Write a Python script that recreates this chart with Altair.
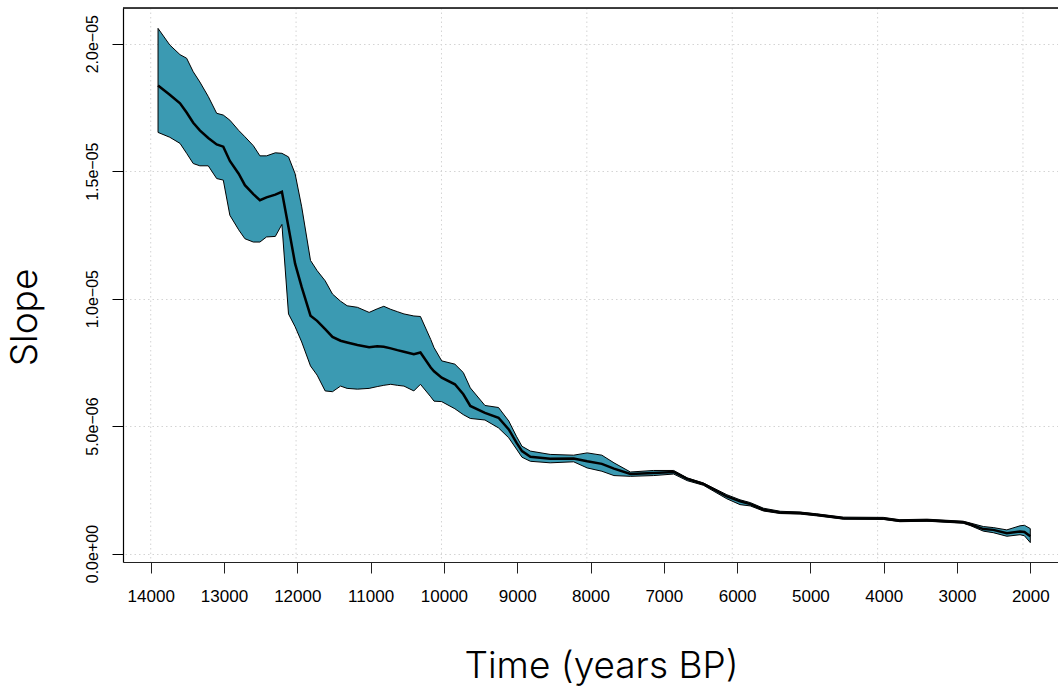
import altair as alt
import pandas as pd

# Time (years BP) and slope values (in units of 1e-6)
years = [13900, 13740, 13600, 13510, 13420, 13330, 13215, 13100, 13010, 12920,
         12800, 12715, 12600, 12510, 12420, 12300, 12210, 12120, 12030, 11940,
         11820, 11730, 11620, 11520, 11410, 11320, 11180, 11020, 10910, 10820,
         10725, 10635, 10545, 10410, 10320, 10180, 10135, 10030, 9850, 9735,
         9640, 9440, 9255, 9115, 9010, 8935, 8820, 8550, 8230, 8045,
         7845, 7680, 7455, 7140, 6865, 6680, 6460, 6140, 5960, 5820,
         5640, 5410, 5140, 4915, 4550, 4005, 3780, 3410, 2915, 2820,
         2640, 2505, 2320, 2140, 2080, 2000]
upper_e6 = [20.6, 19.95, 19.57, 19.43, 18.9, 18.5, 17.93, 17.27, 17.2, 17.0,
            16.6, 16.35, 16.0, 15.6, 15.6, 15.72, 15.7, 15.56, 14.9, 13.6,
            11.5, 11.1, 10.7, 10.18, 9.9, 9.72, 9.66, 9.46, 9.6, 9.7,
            9.58, 9.49, 9.4, 9.32, 9.3, 8.4, 8.08, 7.56, 7.43, 7.1,
            6.5, 5.81, 5.73, 5.2, 4.6, 4.21, 4.02, 3.89, 3.86, 3.95,
            3.86, 3.56, 3.2, 3.26, 3.26, 2.97, 2.77, 2.31, 2.11, 2.0,
            1.78, 1.66, 1.63, 1.56, 1.43, 1.42, 1.33, 1.35, 1.27, 1.2,
            1.06, 1.02, 0.93, 1.09, 1.11, 0.98]
mean_e6 = [18.36, 18.0, 17.66, 17.3, 16.9, 16.6, 16.3, 16.05, 15.96, 15.4,
           14.9, 14.45, 14.1, 13.86, 13.97, 14.08, 14.19, 12.8, 11.37, 10.45,
           9.33, 9.13, 8.8, 8.5, 8.35, 8.28, 8.18, 8.09, 8.13, 8.11,
           8.05, 7.98, 7.92, 7.82, 7.89, 7.3, 7.15, 6.9, 6.64, 6.25,
           5.79, 5.52, 5.33, 4.87, 4.35, 4.02, 3.8, 3.72, 3.73, 3.62,
           3.52, 3.33, 3.12, 3.16, 3.2, 2.93, 2.73, 2.24, 2.05, 1.94,
           1.72, 1.61, 1.59, 1.52, 1.39, 1.38, 1.29, 1.31, 1.23, 1.15,
           0.96, 0.93, 0.8, 0.87, 0.85, 0.68]
lower_e6 = [16.52, 16.33, 16.09, 15.7, 15.3, 15.21, 15.21, 14.71, 14.65, 13.27,
            12.7, 12.35, 12.22, 12.22, 12.42, 12.44, 12.91, 9.4, 8.9, 8.3,
            7.36, 7.0, 6.38, 6.35, 6.57, 6.48, 6.45, 6.48, 6.55, 6.6,
            6.64, 6.6, 6.57, 6.38, 6.64, 6.15, 5.98, 5.96, 5.68, 5.45,
            5.3, 5.24, 4.93, 4.54, 4.1, 3.78, 3.62, 3.56, 3.6, 3.36,
            3.23, 3.06, 3.03, 3.06, 3.12, 2.86, 2.68, 2.15, 1.92, 1.87,
            1.67, 1.57, 1.55, 1.48, 1.35, 1.34, 1.25, 1.27, 1.19, 1.1,
            0.88, 0.82, 0.68, 0.74, 0.7, 0.43]

x_ticks = [14000, 13000, 12000, 11000, 10000, 9000, 8000, 7000, 6000, 5000, 4000, 3000, 2000]
grid_years = [14000, 12017, 10033, 8050, 6066, 4083, 2100]
y_ticks = [0.0, 5e-6, 1e-5, 1.5e-5, 2e-5]
y_tick_labels = ["0.0e+00", "5.0e\u221206", "1.0e\u221205", "1.5e\u221205", "2.0e\u221205"]

x_domain = [1622, 14378]
y_domain = [-0.33e-6, 21.4e-6]

df = pd.DataFrame({
    "year": years,
    "upper": [v * 1e-6 for v in upper_e6],
    "mean": [v * 1e-6 for v in mean_e6],
    "lower": [v * 1e-6 for v in lower_e6],
})
grid_df = pd.DataFrame({"year": grid_years})
top_df = pd.DataFrame({"upper": [y_domain[1]]})

# label expression built from tick lists
expr = "''"
for v, lab in reversed(list(zip(y_ticks, y_tick_labels))):
    expr = f"abs(datum.value - {v}) < 1e-9 ? '{lab}' : " + expr
label_expr = expr

x_scale = alt.Scale(domain=x_domain, reverse=True, nice=False, zero=False)
y_scale = alt.Scale(domain=y_domain, nice=False, zero=False)

TITLE_FONT = "Inter"

x_axis = alt.Axis(
    values=x_ticks, format="d", grid=False,
    domain=True, domainColor="#222222", domainWidth=1.2,
    ticks=True, tickSize=11, tickColor="#222222", tickWidth=1,
    labelFont="Liberation Sans", labelFontSize=17, labelColor="black",
    labelBaseline="alphabetic", labelPadding=28, labelFlush=False, labelOverlap=False,
    title="Time (years BP)", titleFont=TITLE_FONT, titleFontWeight=300, titleFontSize=37,
    titleColor="black", titleX=478, titleY=115, titleAlign="center",
    titleBaseline="alphabetic",
)
y_axis = alt.Axis(
    values=y_ticks, labelExpr=label_expr,
    grid=True, gridColor="#d4d4d4", gridDash=[1.5, 3], gridWidth=1,
    domain=True, domainColor="black", domainWidth=1.2,
    ticks=True, tickSize=11, tickColor="black", tickWidth=1,
    labelFont="Liberation Sans", labelFontSize=16, labelColor="black",
    labelAngle=270, labelAlign="center", labelBaseline="alphabetic", labelPadding=15,
    labelFlush=False, labelOverlap=False,
    title="Slope", titleFont=TITLE_FONT, titleFontWeight=300, titleFontSize=37,
    titleColor="black", titleAngle=270, titleX=-87, titleY=309,
    titleAlign="center", titleBaseline="alphabetic",
)

X = alt.X("year:Q", scale=x_scale, axis=x_axis)

grid = alt.Chart(grid_df).mark_rule(
    color="#d4d4d4", strokeDash=[1.5, 3], strokeWidth=1
).encode(x=X)

band = alt.Chart(df).mark_area(
    color="#3B9AB2", opacity=1, stroke="black", strokeWidth=1
).encode(
    x=X,
    y=alt.Y("upper:Q", scale=y_scale, axis=y_axis),
    y2="lower:Q",
)

line = alt.Chart(df).mark_line(color="black", strokeWidth=2.5).encode(
    x=X,
    y=alt.Y("mean:Q", scale=y_scale, axis=y_axis),
)

top = alt.Chart(top_df).mark_rule(color="black", strokeWidth=1.5).encode(
    y=alt.Y("upper:Q", scale=y_scale, axis=y_axis)
)

chart = alt.layer(grid, band, line, top).properties(
    width=935, height=554,
    padding={"left": 123, "top": 8, "right": 0, "bottom": 125},
    autosize=alt.AutoSizeParams(type="none"),
).configure_view(strokeWidth=0).configure(background="white")

chart.save("out.html", embed_options={"renderer": "svg", "actions": False})
